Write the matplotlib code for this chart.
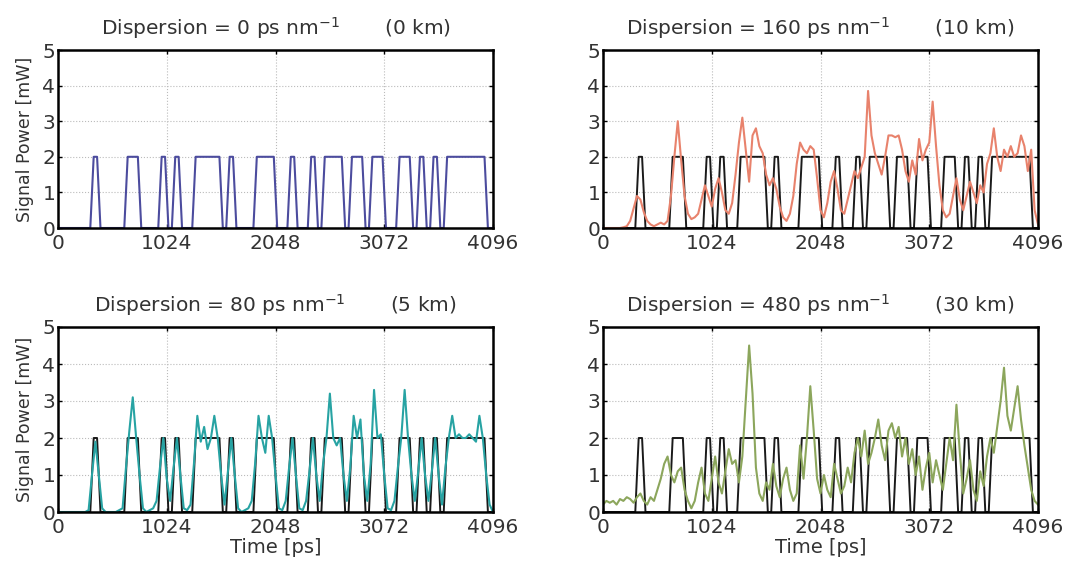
import numpy as np
import matplotlib
matplotlib.use("Agg")
import matplotlib.pyplot as plt

plt.rcParams['font.family'] = ['DejaVu Sans']
plt.rcParams['mathtext.default'] = 'regular'

# bit pattern (64 bits, 64 ps each), '1' -> 2 mW
bits = [0,0,0,0,0,1,0,0, 0,0,1,1,0,0,0,1, 0,1,0,0,1,1,1,1, 0,1,0,0,0,1,1,1,
        0,0,1,0,0,1,0,1, 1,1,0,1,1,0,1,1, 0,0,1,1,0,1,0,1, 0,1,1,1,1,1,1,0]
bit_ps = 64
high = 2.0

# received signals, read every 32 ps (0..4096)
t_rx = np.arange(0, 4097, 32)
p_10km = [0,0,0,0,0,0,0.02,0.05, 0.2,0.55,0.9,0.8,0.45,0.2,0.1,0.05,
          0.1,0.15,0.1,0.2,0.9,2.0,3.0,1.9, 0.9,0.4,0.25,0.3,0.4,0.8,1.2,0.9,
          0.6,1.1,1.4,1.0,0.5,0.4,0.7,1.5, 2.4,3.1,2.2,1.3,2.6,2.8,2.3,2.1,
          1.5,1.2,1.4,1.1,0.6,0.3,0.2,0.4, 0.9,1.8,2.4,2.2,2.1,2.3,2.2,1.4,
          0.5,0.3,0.7,1.3,1.6,1.1,0.5,0.4, 0.8,1.2,1.6,1.4,1.7,2.0,3.85,2.6,
          2.1,1.8,1.5,2.0,2.6,2.6,2.55,2.6, 2.2,1.6,1.3,1.9,1.5,2.5,1.9,2.2,
          2.4,3.55,2.3,1.2,0.5,0.3,0.4,0.9, 1.4,0.8,0.5,0.9,1.3,1.0,0.7,1.2,
          1.0,1.8,2.1,2.8,2.0,1.6,2.2,2.0, 2.3,2.0,2.1,2.6,2.3,1.6,2.2,0.5, 0.1]
p_5km = [0,0,0,0,0,0,0,0, 0,0.05,1.0,1.9,1.0,0.1,0,0,
         0,0,0.05,0.1,1.2,2.2,3.1,2.0, 1.0,0.1,0,0.05,0.1,0.3,1.2,2.0,
         0.9,0.3,1.2,2.0,1.0,0.1,0.05,0.2, 1.3,2.6,1.9,2.3,1.7,2.0,2.6,2.0,
         1.0,0.2,1.1,2.0,1.0,0.1,0,0.05, 0.1,0.3,1.3,2.6,2.0,1.6,2.6,2.0,
         1.0,0.1,0.05,0.3,1.2,2.0,1.0,0.1, 0.05,0.3,1.1,2.0,1.0,0.3,1.3,2.0,
         3.2,2.0,1.8,2.0,1.0,0.3,1.2,2.6, 2.0,2.5,1.0,0.3,1.3,3.3,2.0,2.1,
         1.0,0.1,0.05,0.3,1.2,2.0,3.3,2.0, 1.0,0.3,1.1,2.0,1.0,0.3,1.1,2.0,
         1.0,0.2,1.2,2.0,2.6,2.0,2.1,2.0, 2.0,2.1,2.0,1.9,2.6,2.0,1.0,0.2, 0]
p_30km = [0.2,0.3,0.25,0.3,0.2,0.35,0.3,0.4, 0.35,0.25,0.4,0.5,0.3,0.2,0.4,0.3,
          0.6,0.9,1.3,1.5,1.0,0.8,1.1,1.2, 0.6,0.3,0.1,0.3,0.8,1.2,0.5,0.3,
          0.9,1.5,0.8,0.5,1.1,1.7,1.3,1.4, 0.8,1.5,3.0,4.5,3.2,1.2,0.5,0.3,
          0.8,0.6,1.3,0.7,0.4,0.9,1.2,0.6, 0.3,0.5,1.8,0.9,2.0,3.4,2.2,0.9,
          0.5,1.0,0.6,0.4,1.3,0.9,0.5,0.7, 1.2,0.8,1.6,2.0,1.5,2.2,1.3,1.6,
          2.0,2.5,1.8,1.4,2.2,2.4,2.0,2.3, 1.5,2.0,1.3,1.7,1.0,1.5,0.6,1.2,
          1.6,0.8,1.4,1.0,0.6,1.3,2.0,1.4, 2.9,1.6,0.5,0.9,1.4,0.6,0.3,1.1,
          0.7,1.5,2.0,1.6,2.3,3.0,3.9,2.6, 2.2,2.8,3.4,2.5,1.8,1.2,0.6,0.3, 0.2]

panels = [
    ("0", "0 km", None, "#4c4c9e"),
    ("160", "10 km", p_10km, "#e8826c"),
    ("80", "5 km", p_5km, "#27a3a3"),
    ("480", "30 km", p_30km, "#8ca65c"),
]

# trapezoidal transmitted waveform built from the bits
t_tx = [0]
p_tx = [0]
for i, b in enumerate(bits):
    t_tx += [i * bit_ps + 16, i * bit_ps + 48]
    p_tx += [b * high, b * high]
t_tx.append(len(bits) * bit_ps)
p_tx.append(0)

fig = plt.figure(figsize=(10.65, 5.61), dpi=100)
W, H = 1065, 561
boxes = [(58, 50, 435, 178), (603, 50, 435, 178),
         (58, 327, 435, 185), (603, 327, 435, 185)]

for k, (disp, km, rx, col) in enumerate(panels):
    x0, y0, w, h = boxes[k]
    ax = fig.add_axes([x0 / W, 1 - (y0 + h) / H, w / W, h / H])
    if rx is None:
        ax.plot(t_tx, p_tx, color=col, lw=1.5)
    else:
        ax.plot(t_tx, p_tx, color="#1a1a1a", lw=1.4)
        ax.plot(t_rx, rx, color=col, lw=1.5)
    ax.set_xlim(0, 4096)
    ax.set_ylim(0, 5)
    ax.set_xticks([0, 1024, 2048, 3072, 4096])
    ax.set_yticks([0, 1, 2, 3, 4, 5])
    ax.tick_params(direction="in", length=3, width=1, labelsize=14.5,
                   top=True, right=True, labelcolor="#333333")
    ax.tick_params(axis="x", pad=4)
    ax.tick_params(axis="y", pad=2)
    ax.grid(True, ls=":", color="#bbbbbb", lw=0.8)
    for s in ax.spines.values():
        s.set_linewidth(1.8)
    ax.set_title("Dispersion = %s ps nm$^{-1}$       (%s)" % (disp, km),
                 fontsize=14.5, pad=11, color="#333333")
    if k % 2 == 0:
        ax.set_ylabel("Signal Power [mW]", fontsize=12.5, labelpad=6,
                      color="#333333")
    if k >= 2:
        ax.set_xlabel("Time [ps]", fontsize=14, labelpad=1, color="#333333")

fig.savefig("out.png", dpi=100)
